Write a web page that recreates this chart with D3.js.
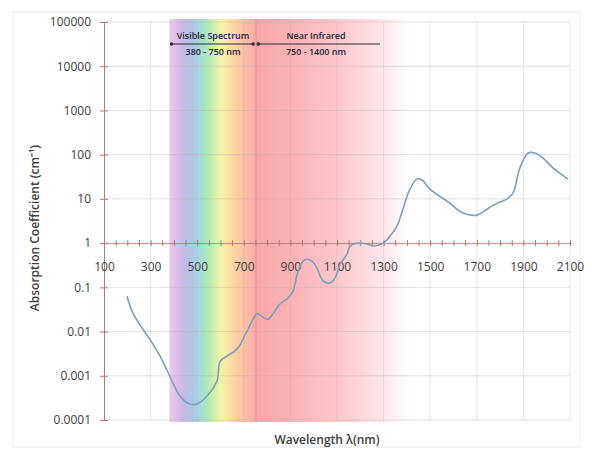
<!DOCTYPE html>
<html>
<head>
<meta charset="utf-8">
<script src="https://cdn.jsdelivr.net/npm/d3@7"></script>
<style>
  body { margin: 0; background: #fff; }
  text { font-family: "Open Sans", sans-serif; }
</style>
</head>
<body>
<div id="plot"></div>
<script>
// Data
var wavelength = [199, 224, 267, 310, 353, 392, 426, 469, 499, 542, 585, 598, 628, 671, 714, 757, 778, 804,
    855, 890, 911, 933, 954, 975, 997, 1014, 1040, 1070, 1091, 1113, 1143, 1156, 1186, 1229, 1255, 1298,
    1328, 1357, 1383, 1413, 1443, 1464, 1499, 1572, 1641, 1701, 1744, 1787, 1830, 1855, 1885, 1920,
    1950, 1984, 2027, 2091];
var absorption = [0.063, 0.026, 0.0113, 0.0052, 0.0021, 0.00076, 0.00035, 0.00023, 0.00023, 0.00035,
    0.00076, 0.0021, 0.0028, 0.004, 0.0102, 0.025, 0.022, 0.019, 0.042, 0.057, 0.082, 0.23, 0.39, 0.43,
    0.37, 0.27, 0.14, 0.125, 0.16, 0.33, 0.56, 0.85, 1.0, 0.95, 0.86, 1.0, 1.44, 2.4, 5.9, 16.6, 28, 27,
    16.6, 8.9, 4.8, 4.3, 5.9, 8, 10, 13.5, 50, 109, 109, 84, 50, 28];

var xTicks = [100, 300, 500, 700, 900, 1100, 1300, 1500, 1700, 1900, 2100];
var yTicks = [0.0001, 0.001, 0.01, 0.1, 1, 10, 100, 1000, 10000, 100000];
var yTickLabels = ["0.0001", "0.001", "0.01", "0.1", "1", "10", "100", "1000", "10000", "100000"];

// spectrum band colour stops (nm)
var bandNm = [380, 383, 409, 443, 478, 503, 533, 564, 598, 624, 658, 701, 735, 752, 898, 1113, 1285, 1413];
var bandColours = ["#f4ddf4", "#ecc8ee", "#e0bfe9", "#c7b9e6", "#adc6e6", "#a9d6e0", "#a8e4c4", "#c4eeae",
    "#eef5a8", "#fbeaa6", "#fcd4a4", "#fbc2a4", "#fab3aa", "#f9a7a9", "#fbb2b4", "#fcc9cd", "#fee4e8", "#ffffff"];

var ranges = [
    { from: 390, to: 740, title: "Visible Spectrum", sub: "380 - 750 nm", centre: 568 },
    { from: 762, to: 1285, title: "Near Infrared", sub: "750 - 1400 nm", centre: 1010 }
];

var width = 592, height = 452;
var axisColour = "#b77676";

var svg = d3.select("#plot").append("svg")
    .attr("width", width)
    .attr("height", height);

var x = d3.scaleLinear().domain([100, 2100]).range([104, 570]);
var y = d3.scaleLog().domain([0.0001, 100000]).range([420, 22]);

// faint frame
svg.append("rect")
    .attr("x", 13).attr("y", 12)
    .attr("width", 567).attr("height", 435)
    .attr("fill", "none")
    .attr("stroke", "#ececec");

// spectrum band
var grad = svg.append("defs").append("linearGradient")
    .attr("id", "band")
    .attr("gradientUnits", "userSpaceOnUse")
    .attr("x1", x(bandNm[0])).attr("x2", x(bandNm[bandNm.length - 1]))
    .attr("y1", 0).attr("y2", 0);

grad.selectAll("stop")
    .data(bandNm)
    .enter()
    .append("stop")
    .attr("offset", function(d) {
        return (x(d) - x(bandNm[0])) / (x(bandNm[bandNm.length - 1]) - x(bandNm[0]));
    })
    .attr("stop-color", function(d, i) { return bandColours[i]; });

svg.append("rect")
    .attr("x", x(bandNm[0]))
    .attr("y", y(100000) - 3)
    .attr("width", x(bandNm[bandNm.length - 1]) - x(bandNm[0]))
    .attr("height", y(0.0001) - y(100000) + 5)
    .attr("fill", "url(#band)");

// edge of the visible range
svg.append("line")
    .attr("x1", x(752)).attr("x2", x(752))
    .attr("y1", y(100000) - 3).attr("y2", y(0.0001) + 2)
    .attr("stroke", "#e58c92")
    .attr("stroke-width", 1.2)
    .attr("opacity", 0.7);

// gridlines
svg.selectAll(".hgrid")
    .data(yTicks)
    .enter()
    .append("line")
    .attr("class", "hgrid")
    .attr("x1", x(100)).attr("x2", x(2100))
    .attr("y1", function(d) { return y(d); })
    .attr("y2", function(d) { return y(d); })
    .attr("stroke", "#b8a8a8")
    .attr("stroke-opacity", 0.35);

svg.selectAll(".vgrid")
    .data(xTicks.slice(1))
    .enter()
    .append("line")
    .attr("class", "vgrid")
    .attr("x1", function(d) { return x(d); })
    .attr("x2", function(d) { return x(d); })
    .attr("y1", y(100000)).attr("y2", y(0.0001))
    .attr("stroke", "#b8a8a8")
    .attr("stroke-opacity", 0.3);

// y axis
var yAxis = svg.append("g")
    .attr("transform", "translate(" + x(100) + ",0)")
    .call(d3.axisLeft(y)
        .tickValues(yTicks)
        .tickFormat(function(d, i) { return yTickLabels[i]; })
        .tickSize(4)
        .tickPadding(9));
yAxis.select(".domain").attr("stroke", axisColour);
yAxis.selectAll(".tick line").attr("stroke", axisColour).attr("x2", 4).attr("x1", -4);
yAxis.selectAll(".tick text")
    .attr("fill", "#404040")
    .style("font-size", "12px")
    .style("font-family", "Open Sans, sans-serif");

// x axis along the line y = 1
var minorTicks = d3.range(100, 2101, 50);
var xAxis = svg.append("g")
    .attr("transform", "translate(0," + y(1) + ")")
    .call(d3.axisBottom(x)
        .tickValues(minorTicks)
        .tickFormat(function(d) { return xTicks.indexOf(d) >= 0 ? d : ""; })
        .tickSize(3)
        .tickPadding(16));
xAxis.select(".domain").attr("stroke", axisColour).attr("stroke-opacity", 0.8);
xAxis.selectAll(".tick line").attr("stroke", axisColour).attr("y1", -3).attr("y2", 3);
xAxis.selectAll(".tick text")
    .attr("fill", "#404040")
    .style("font-size", "12px")
    .style("font-family", "Open Sans, sans-serif");

// curve
var line = d3.line()
    .x(function(d, i) { return x(wavelength[i]); })
    .y(function(d) { return y(d); })
    .curve(d3.curveCatmullRom);

svg.append("path")
    .datum(absorption)
    .attr("d", line)
    .attr("fill", "none")
    .attr("stroke", "#7d9fb9")
    .attr("stroke-width", 1.6);

// range annotations
var ann = svg.selectAll(".range")
    .data(ranges)
    .enter()
    .append("g")
    .attr("class", "range");

ann.append("line")
    .attr("x1", function(d) { return x(d.from); })
    .attr("x2", function(d) { return x(d.to); })
    .attr("y1", 44).attr("y2", 44)
    .attr("stroke", "#2a2a3a")
    .attr("stroke-width", 1);

ann.append("circle")
    .attr("cx", function(d) { return x(d.from); })
    .attr("cy", 44)
    .attr("r", 1.8)
    .attr("fill", "#2a2a3a");

ann.filter(function(d, i) { return i == 0; })
    .append("circle")
    .attr("cx", function(d) { return x(d.to); })
    .attr("cy", 44)
    .attr("r", 1.8)
    .attr("fill", "#2a2a3a");

ann.append("text")
    .attr("x", function(d) { return x(d.centre); })
    .attr("y", 39)
    .attr("text-anchor", "middle")
    .style("font-size", "9px")
    .style("font-weight", 600)
    .attr("fill", "#1f2438")
    .text(function(d) { return d.title; });

ann.append("text")
    .attr("x", function(d) { return x(d.centre); })
    .attr("y", 55)
    .attr("text-anchor", "middle")
    .style("font-size", "9px")
    .style("font-weight", 600)
    .attr("fill", "#1f2438")
    .text(function(d) { return d.sub; });

// axis titles
svg.append("text")
    .attr("transform", "translate(39,228) rotate(-90)")
    .attr("text-anchor", "middle")
    .style("font-size", "12px")
    .style("font-weight", 600)
    .attr("fill", "#404040")
    .text("Absorption Coefficient (cm⁻¹)");

svg.append("text")
    .attr("x", 327)
    .attr("y", 444)
    .attr("text-anchor", "middle")
    .style("font-size", "12px")
    .style("font-weight", 600)
    .attr("fill", "#404040")
    .text("Wavelength λ(nm)");
</script>
</body>
</html>
